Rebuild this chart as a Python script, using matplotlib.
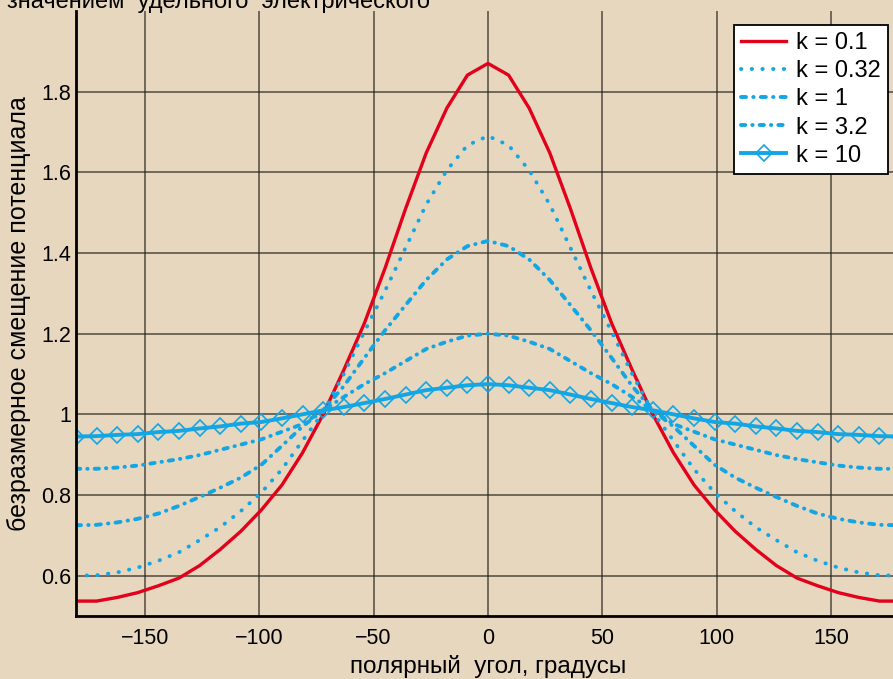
import matplotlib
matplotlib.use("Agg")
import matplotlib.pyplot as plt

plt.rcParams['font.family'] = ['Liberation Sans', 'DejaVu Sans']

# polar angle, degrees (step 9)
angle = list(range(-180, 181, 9))

# dimensionless potential shift for each k
k01 = [0.537, 0.537, 0.546, 0.558, 0.575, 0.594, 0.625, 0.665, 0.710, 0.763,
       0.825, 0.905, 1.000, 1.110, 1.226, 1.362, 1.510, 1.648, 1.759, 1.841,
       1.870,
       1.841, 1.759, 1.648, 1.510, 1.362, 1.226, 1.110, 1.000, 0.905, 0.825,
       0.763, 0.710, 0.665, 0.625, 0.594, 0.575, 0.558, 0.546, 0.537, 0.537]
k032 = [0.600, 0.601, 0.608, 0.620, 0.637, 0.658, 0.688, 0.720, 0.760, 0.806,
        0.864, 0.935, 1.005, 1.100, 1.205, 1.306, 1.413, 1.520, 1.605, 1.667,
        1.690,
        1.667, 1.605, 1.520, 1.413, 1.306, 1.205, 1.100, 1.005, 0.935, 0.864,
        0.806, 0.760, 0.720, 0.688, 0.658, 0.637, 0.620, 0.608, 0.601, 0.600]
k1 = [0.725, 0.726, 0.732, 0.741, 0.754, 0.773, 0.795, 0.818, 0.843, 0.875,
      0.922, 0.970, 1.010, 1.070, 1.140, 1.208, 1.271, 1.333, 1.384, 1.417,
      1.430,
      1.417, 1.384, 1.333, 1.271, 1.208, 1.140, 1.070, 1.010, 0.970, 0.922,
      0.875, 0.843, 0.818, 0.795, 0.773, 0.754, 0.741, 0.732, 0.726, 0.725]
k32 = [0.865, 0.865, 0.868, 0.873, 0.881, 0.889, 0.899, 0.912, 0.925, 0.938,
       0.957, 0.976, 1.010, 1.043, 1.075, 1.102, 1.132, 1.162, 1.180, 1.195,
       1.200,
       1.195, 1.180, 1.162, 1.132, 1.102, 1.075, 1.043, 1.010, 0.976, 0.957,
       0.938, 0.925, 0.912, 0.899, 0.889, 0.881, 0.873, 0.868, 0.865, 0.865]
k10 = [0.945, 0.946, 0.949, 0.951, 0.956, 0.959, 0.965, 0.970, 0.977, 0.981,
       0.990, 1.000, 1.010, 1.018, 1.028, 1.038, 1.049, 1.060, 1.066, 1.072,
       1.075,
       1.072, 1.066, 1.060, 1.049, 1.038, 1.028, 1.018, 1.010, 1.000, 0.990,
       0.981, 0.977, 0.970, 0.965, 0.959, 0.956, 0.951, 0.949, 0.946, 0.945]

xticks = [-150, -100, -50, 0, 50, 100, 150]
yticks = [0.6, 0.8, 1.0, 1.2, 1.4, 1.6, 1.8]
ytick_labels = ['0.6', '0.8', '1', '1.2', '1.4', '1.6', '1.8']

bg = '#E8D7BF'
red = '#E2001A'
blue = '#13A6E5'

fig = plt.figure(figsize=(8.93, 6.79), dpi=100)
fig.patch.set_facecolor(bg)
ax = fig.add_axes([76 / 893, 1 - 616 / 679, 824 / 893, 605 / 679])
ax.set_facecolor(bg)

ax.plot(angle, k01, color=red, lw=2.4, label='k = 0.1')
ax.plot(angle, k032, color=blue, lw=2.8, linestyle=(0, (0.1, 2.65)),
        dash_capstyle='round', label='k = 0.32')
ax.plot(angle, k1, color=blue, lw=2.8, linestyle=(0, (1.3, 1.85, 0.1, 1.85)),
        dash_capstyle='round', label='k = 1')
ax.plot(angle, k32, color=blue, lw=2.8, linestyle=(0, (1.1, 1.8, 0.1, 1.8)),
        dash_capstyle='round', label='k = 3.2')
ax.plot(angle, k10, color=blue, lw=2.8, marker='D', markersize=8,
        markerfacecolor='none', markeredgewidth=1.2, markeredgecolor=blue,
        label='k = 10')

ax.set_xlim(-180, 180)
ax.set_ylim(0.5, 2.0)
ax.set_xticks(xticks)
ax.set_yticks(yticks)
ax.set_yticklabels(ytick_labels)
ax.tick_params(length=0, labelsize=15.5)
ax.tick_params(axis='x', pad=9)
ax.tick_params(axis='y', pad=3.5)
ax.grid(True, color='#2b2520', lw=1.1, alpha=0.8)
ax.set_axisbelow(True)

for side in ('top', 'right'):
    ax.spines[side].set_visible(False)
for side in ('left', 'bottom'):
    ax.spines[side].set_linewidth(2.0)
    ax.spines[side].set_color('black')

ax.set_xlabel('полярный  угол, градусы', fontsize=17.5, labelpad=4)
ax.set_ylabel('безразмерное смещение потенциала', fontsize=18, labelpad=7)

fig.text(7 / 893, 1 - 8 / 679, 'значением  удельного  электрического',
         fontsize=17, va='baseline', ha='left')

leg = ax.legend(loc='upper right', bbox_to_anchor=(888 / 893, 1 - 25 / 679),
                bbox_transform=fig.transFigure, borderaxespad=0,
                fontsize=17, frameon=True, fancybox=False,
                handlelength=1.9, handletextpad=0.42, labelspacing=0.26,
                borderpad=0.3)
leg.get_frame().set_edgecolor('black')
leg.get_frame().set_linewidth(1.3)
leg.get_frame().set_facecolor('white')
leg.get_frame().set_alpha(1)

fig.savefig('out.png', dpi=100, facecolor=bg)
